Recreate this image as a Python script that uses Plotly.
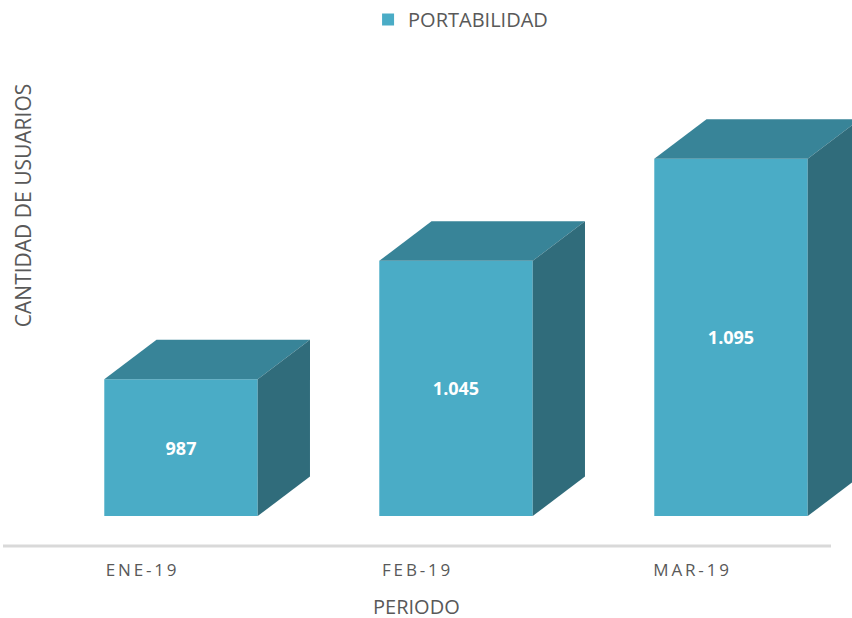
import plotly.graph_objects as go

# ---- data ----
categories = ["ENE-19", "FEB-19", "MAR-19"]
values = [987, 1045, 1095]
series_name = "PORTABILIDAD"
x_title = "PERIODO"
y_title = "CANTIDAD DE USUARIOS"
AXIS_FLOOR = 920  # value at which the bars start

# ---- style constants ----
FRONT = "#4aacc6"
TOP = "#388498"
SIDE = "#306c7b"
TXT = "#595959"
FONT = "Open Sans"
BAR_W = 0.558          # bar width in category units
DX = 0.190             # depth offset (x units)
DY = 19.4              # depth offset (y units)
LABEL_SHIFT = 0.145    # tick labels sit left of the bar centre
X_LINE = (-0.6473, 2.3636)  # extent of the category axis line
X_RANGE = (-0.6473, 2.44)
Y_RANGE = (905.34, 1142.9)

idx = list(range(len(categories)))
labels = [f"{v:,}".replace(",", ".") for v in values]
spaced = ["\u2009".join(c) for c in categories]  # letter-spaced tick labels

fig = go.Figure()

# front faces
fig.add_trace(go.Bar(
    x=idx, y=[v - AXIS_FLOOR for v in values], base=AXIS_FLOOR,
    width=BAR_W, marker=dict(color=FRONT, line=dict(width=0)),
    name=series_name, text=labels, textposition="inside",
    insidetextanchor="middle",
    textfont=dict(family=FONT, size=18, color="white", weight="bold"),
    hoverinfo="skip", showlegend=True,
))

# top and side faces
for i, v in zip(idx, values):
    xl, xr = i - BAR_W / 2, i + BAR_W / 2
    fig.add_trace(go.Scatter(
        x=[xl, xl + DX, xr + DX, xr, xl],
        y=[v, v + DY, v + DY, v, v],
        mode="lines", fill="toself", fillcolor=TOP,
        line=dict(width=0, color=TOP), hoverinfo="skip", showlegend=False,
    ))
    fig.add_trace(go.Scatter(
        x=[xr, xr + DX, xr + DX, xr, xr],
        y=[AXIS_FLOOR, AXIS_FLOOR + DY, v + DY, v, AXIS_FLOOR],
        mode="lines", fill="toself", fillcolor=SIDE,
        line=dict(width=0, color=SIDE), hoverinfo="skip", showlegend=False,
    ))

fig.update_layout(
    width=852, height=618,
    margin=dict(l=3, r=0, t=60, b=72),
    paper_bgcolor="white", plot_bgcolor="white",
    font=dict(family=FONT, color=TXT),
    showlegend=True,
    legend=dict(orientation="h", x=0.43, xanchor="left", y=1.125, yanchor="top",
                font=dict(family=FONT, size=20, color=TXT)),
    xaxis=dict(
        range=list(X_RANGE), showgrid=False, zeroline=False,
        tickvals=[i - LABEL_SHIFT for i in idx], ticktext=spaced,
        ticks="", showline=False,
        tickfont=dict(family=FONT, size=17, color=TXT), ticklabelstandoff=12,
        fixedrange=True,
    ),
    yaxis=dict(
        range=list(Y_RANGE), showgrid=False, zeroline=False,
        showticklabels=False, ticks="", showline=False, fixedrange=True,
    ),
    shapes=[dict(
        type="line", xref="x", yref="paper", x0=X_LINE[0], x1=X_LINE[1], y0=0, y1=0,
        line=dict(color="#d9d9d9", width=3), layer="above",
    )],
    annotations=[
        dict(text=y_title, xref="paper", yref="paper", x=0.0229, y=0.7016,
             xanchor="center", yanchor="middle", textangle=-90, showarrow=False,
             font=dict(family=FONT, size=21, color=TXT)),
        dict(text=x_title, xref="paper", yref="paper", x=0.4865, y=-0.1235,
             xanchor="center", yanchor="middle", showarrow=False, height=22,
             borderpad=0,
             font=dict(family=FONT, size=20, color=TXT)),
    ],
)

fig.write_html("out.html")
